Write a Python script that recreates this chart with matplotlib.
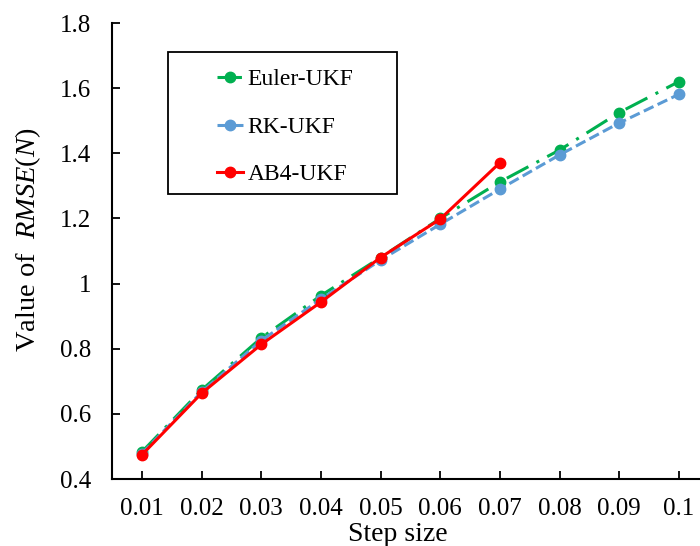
import matplotlib
matplotlib.use("Agg")
import matplotlib.pyplot as plt
from matplotlib.patches import Rectangle

plt.rcParams['font.family'] = ['Liberation Serif', 'DejaVu Serif']
plt.rcParams['mathtext.fontset'] = 'custom'
plt.rcParams['mathtext.rm'] = 'Liberation Serif'
plt.rcParams['mathtext.it'] = 'Liberation Serif:italic'

step = [0.01, 0.02, 0.03, 0.04, 0.05, 0.06, 0.07, 0.08, 0.09, 0.1]
tick_labels = ['0.01', '0.02', '0.03', '0.04', '0.05', '0.06', '0.07', '0.08', '0.09', '0.1']
euler_ukf = [0.483, 0.673, 0.833, 0.963, 1.08, 1.20, 1.312, 1.41, 1.525, 1.62]
rk_ukf = [0.478, 0.667, 0.825, 0.952, 1.072, 1.182, 1.29, 1.395, 1.493, 1.581]
ab4_step = [0.01, 0.02, 0.03, 0.04, 0.05, 0.06, 0.07]
ab4_ukf = [0.474, 0.663, 0.813, 0.943, 1.08, 1.198, 1.371]

fig = plt.figure(figsize=(7.0, 5.46), dpi=100)
ax = fig.add_axes([112/700, 67/546, 596.7/700, 456/546])

green = '#00B050'
blue = '#5B9BD5'
red = '#FF0000'

l1, = ax.plot(step, euler_ukf, color=green, lw=2.2, marker='o', ms=7.5,
              dashes=(8, 3, 1, 3), label='Euler-UKF', zorder=3)
l2, = ax.plot(step, rk_ukf, color=blue, lw=2.2, marker='o', ms=7.5,
              dashes=(3.5, 1.5), label='RK-UKF', zorder=3)
l3, = ax.plot(ab4_step, ab4_ukf, color=red, lw=2.2, marker='o', ms=7.5,
              label='AB4-UKF', zorder=4)

ax.set_xlim(0.005, 0.105)
ax.set_ylim(0.4, 1.8)
ax.set_xticks(step)
ax.set_xticklabels(tick_labels)
ax.set_yticks([0.4, 0.6, 0.8, 1.0, 1.2, 1.4, 1.6, 1.8])
ax.set_yticklabels(['0.4', '0.6', '0.8', '1', '1.2', '1.4', '1.6', '1.8'])
ax.tick_params(axis='both', direction='in', length=6, width=1.3, labelsize=18, colors='black')
ax.tick_params(axis='x', pad=14)
ax.tick_params(axis='y', pad=15)
for s in ['top', 'right']:
    ax.spines[s].set_visible(False)
for s in ['left', 'bottom']:
    ax.spines[s].set_linewidth(1.5)

ax.set_xlabel('Step size', fontsize=20)
ax.xaxis.set_label_coords((398 - 112) / 596.7, -0.095)
ax.set_ylabel('Value of  $RMSE(N)$', fontsize=20.5)
ax.yaxis.set_label_coords(-0.116, (479 - 240) / 456)

# legend frame
fig.patches.append(Rectangle((168/700, 1 - 194/546), (397-168)/700, (194-52)/546,
                             transform=fig.transFigure, fill=False, ec='black', lw=1.3))
leg = fig.legend(handles=[l1, l2, l3], loc='upper left',
                 bbox_to_anchor=(205/700, 1 - 57/546), frameon=False,
                 fontsize=17, handlelength=1.1, handletextpad=0.2,
                 labelspacing=1.1, borderpad=0, markerscale=1.0)

fig.savefig('out.png', dpi=100)
